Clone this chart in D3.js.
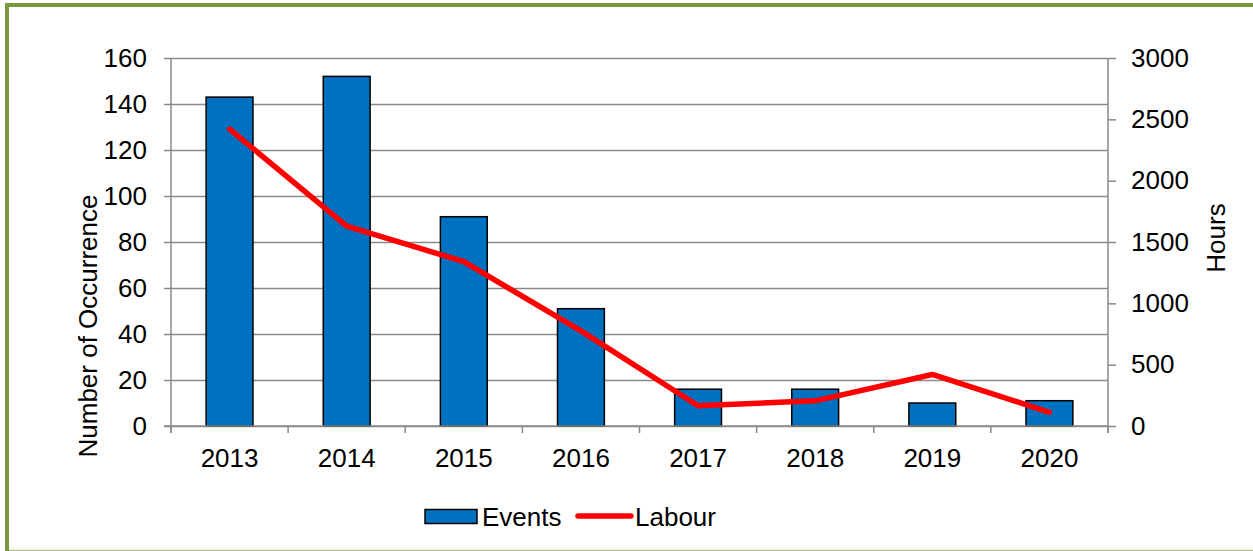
<!DOCTYPE html>
<html>
<head>
<meta charset="utf-8">
<script src="https://cdn.jsdelivr.net/npm/d3@7"></script>
<style>
  html, body { margin: 0; padding: 0; background: #ffffff; }
  svg { display: block; }
  text { font-family: "Liberation Sans", Arial, sans-serif; fill: #000; }
</style>
</head>
<body>
<svg id="chart" width="1253" height="551"></svg>
<script>
// Yearly occurrences (bars, left axis) and labour hours (line, right axis)
const years = ["2013", "2014", "2015", "2016", "2017", "2018", "2019", "2020"];
const events = [143, 152, 91, 51, 16, 16, 10, 11];
const labour = [2420, 1630, 1340, 775, 165, 205, 420, 112];
const leftTicks = [0, 20, 40, 60, 80, 100, 120, 140, 160];
const rightTicks = [0, 500, 1000, 1500, 2000, 2500, 3000];

const W = 1253, H = 551;
const plot = { left: 171, right: 1108, top: 58, bottom: 426 };
const fontSize = 26;
const gridColor = "#8a8a8a";
const fontFamily = "'Liberation Sans', Arial, sans-serif";

const svg = d3.select("#chart");

// outer frame
svg.append("rect")
  .attr("x", 7).attr("y", 5)
  .attr("width", W + 20).attr("height", H - 4)
  .attr("fill", "#ffffff")
  .attr("stroke", "#7a983c").attr("stroke-width", 4);
svg.append("line")
  .attr("x1", 9).attr("x2", W).attr("y1", 549.5).attr("y2", 549.5)
  .attr("stroke", "#eeeedf").attr("stroke-width", 2);

const x = d3.scaleBand().domain(years).range([plot.left, plot.right]).padding(0);
const yL = d3.scaleLinear().domain([0, 160]).range([plot.bottom, plot.top]);
const yR = d3.scaleLinear().domain([0, 3000]).range([plot.bottom, plot.top]);

// horizontal gridlines with left ticks
const leftAxis = d3.axisLeft(yL).tickValues(leftTicks).tickFormat(d3.format("d"))
  .tickSize(-(plot.right - plot.left)).tickSizeOuter(0).tickPadding(24);
const gL = svg.append("g").attr("transform", `translate(${plot.left},0)`).call(leftAxis);
gL.select(".domain").remove();
gL.selectAll(".tick line").attr("stroke", gridColor).attr("stroke-width", 1.5)
  .attr("x1", -7);
gL.selectAll(".tick text").attr("font-size", fontSize).attr("fill", "#000")
  .style("font-family", fontFamily);

// vertical axis lines
svg.append("line").attr("x1", plot.left).attr("x2", plot.left)
  .attr("y1", plot.top).attr("y2", plot.bottom + 7)
  .attr("stroke", gridColor).attr("stroke-width", 1.5);
svg.append("line").attr("x1", plot.right).attr("x2", plot.right)
  .attr("y1", plot.top).attr("y2", plot.bottom + 7)
  .attr("stroke", gridColor).attr("stroke-width", 1.5);

// right axis
const rightAxis = d3.axisRight(yR).tickValues(rightTicks).tickFormat(d3.format("d"))
  .tickSize(8).tickSizeOuter(0).tickPadding(15);
const gR = svg.append("g").attr("transform", `translate(${plot.right},0)`).call(rightAxis);
gR.select(".domain").remove();
gR.selectAll(".tick line").attr("stroke", gridColor).attr("stroke-width", 1.5);
gR.selectAll(".tick text").attr("font-size", fontSize).attr("fill", "#000")
  .style("font-family", fontFamily);

// category boundary ticks on x axis
const bounds = years.map(d => x(d)).concat([plot.right]);
svg.append("g").selectAll("line").data(bounds).join("line")
  .attr("x1", d => d).attr("x2", d => d)
  .attr("y1", plot.bottom).attr("y2", plot.bottom + 7)
  .attr("stroke", gridColor).attr("stroke-width", 1.5);

// x labels
svg.append("g").selectAll("text").data(years).join("text")
  .attr("x", d => x(d) + x.bandwidth() / 2)
  .attr("y", 467)
  .attr("text-anchor", "middle")
  .attr("font-size", fontSize)
  .text(d => d);

// bars
const barW = x.bandwidth() * 0.4;
svg.append("g").selectAll("rect").data(years).join("rect")
  .attr("x", d => x(d) + (x.bandwidth() - barW) / 2)
  .attr("y", (d, i) => yL(events[i]))
  .attr("width", barW)
  .attr("height", (d, i) => yL(0) - yL(events[i]))
  .attr("fill", "#0070c0")
  .attr("stroke", "#000").attr("stroke-width", 1.5);

// baseline redrawn over bar bottoms
svg.append("line").attr("x1", plot.left - 7).attr("x2", plot.right)
  .attr("y1", plot.bottom).attr("y2", plot.bottom)
  .attr("stroke", gridColor).attr("stroke-width", 1.5);

// labour line
const line = d3.line()
  .x((d, i) => x(years[i]) + x.bandwidth() / 2)
  .y(d => yR(d));
svg.append("path").datum(labour)
  .attr("d", line)
  .attr("fill", "none")
  .attr("stroke", "#ff0000").attr("stroke-width", 5.5)
  .attr("stroke-linejoin", "round").attr("stroke-linecap", "round");

// axis titles
svg.append("text")
  .attr("transform", "translate(97,326) rotate(-90)")
  .attr("text-anchor", "middle")
  .attr("font-size", fontSize)
  .text("Number of Occurrence");
svg.append("text")
  .attr("transform", "translate(1225,238) rotate(-90)")
  .attr("text-anchor", "middle")
  .attr("font-size", fontSize)
  .text("Hours");

// legend
const lg = svg.append("g");
lg.append("rect").attr("x", 425).attr("y", 509.5).attr("width", 52).attr("height", 14)
  .attr("fill", "#0070c0").attr("stroke", "#000").attr("stroke-width", 1.5);
lg.append("text").attr("x", 482).attr("y", 526).attr("font-size", fontSize).text("Events");
lg.append("line").attr("x1", 578).attr("x2", 631).attr("y1", 516).attr("y2", 516)
  .attr("stroke", "#ff0000").attr("stroke-width", 5.5).attr("stroke-linecap", "round");
lg.append("text").attr("x", 635).attr("y", 526).attr("font-size", fontSize).text("Labour");
</script>
</body>
</html>
